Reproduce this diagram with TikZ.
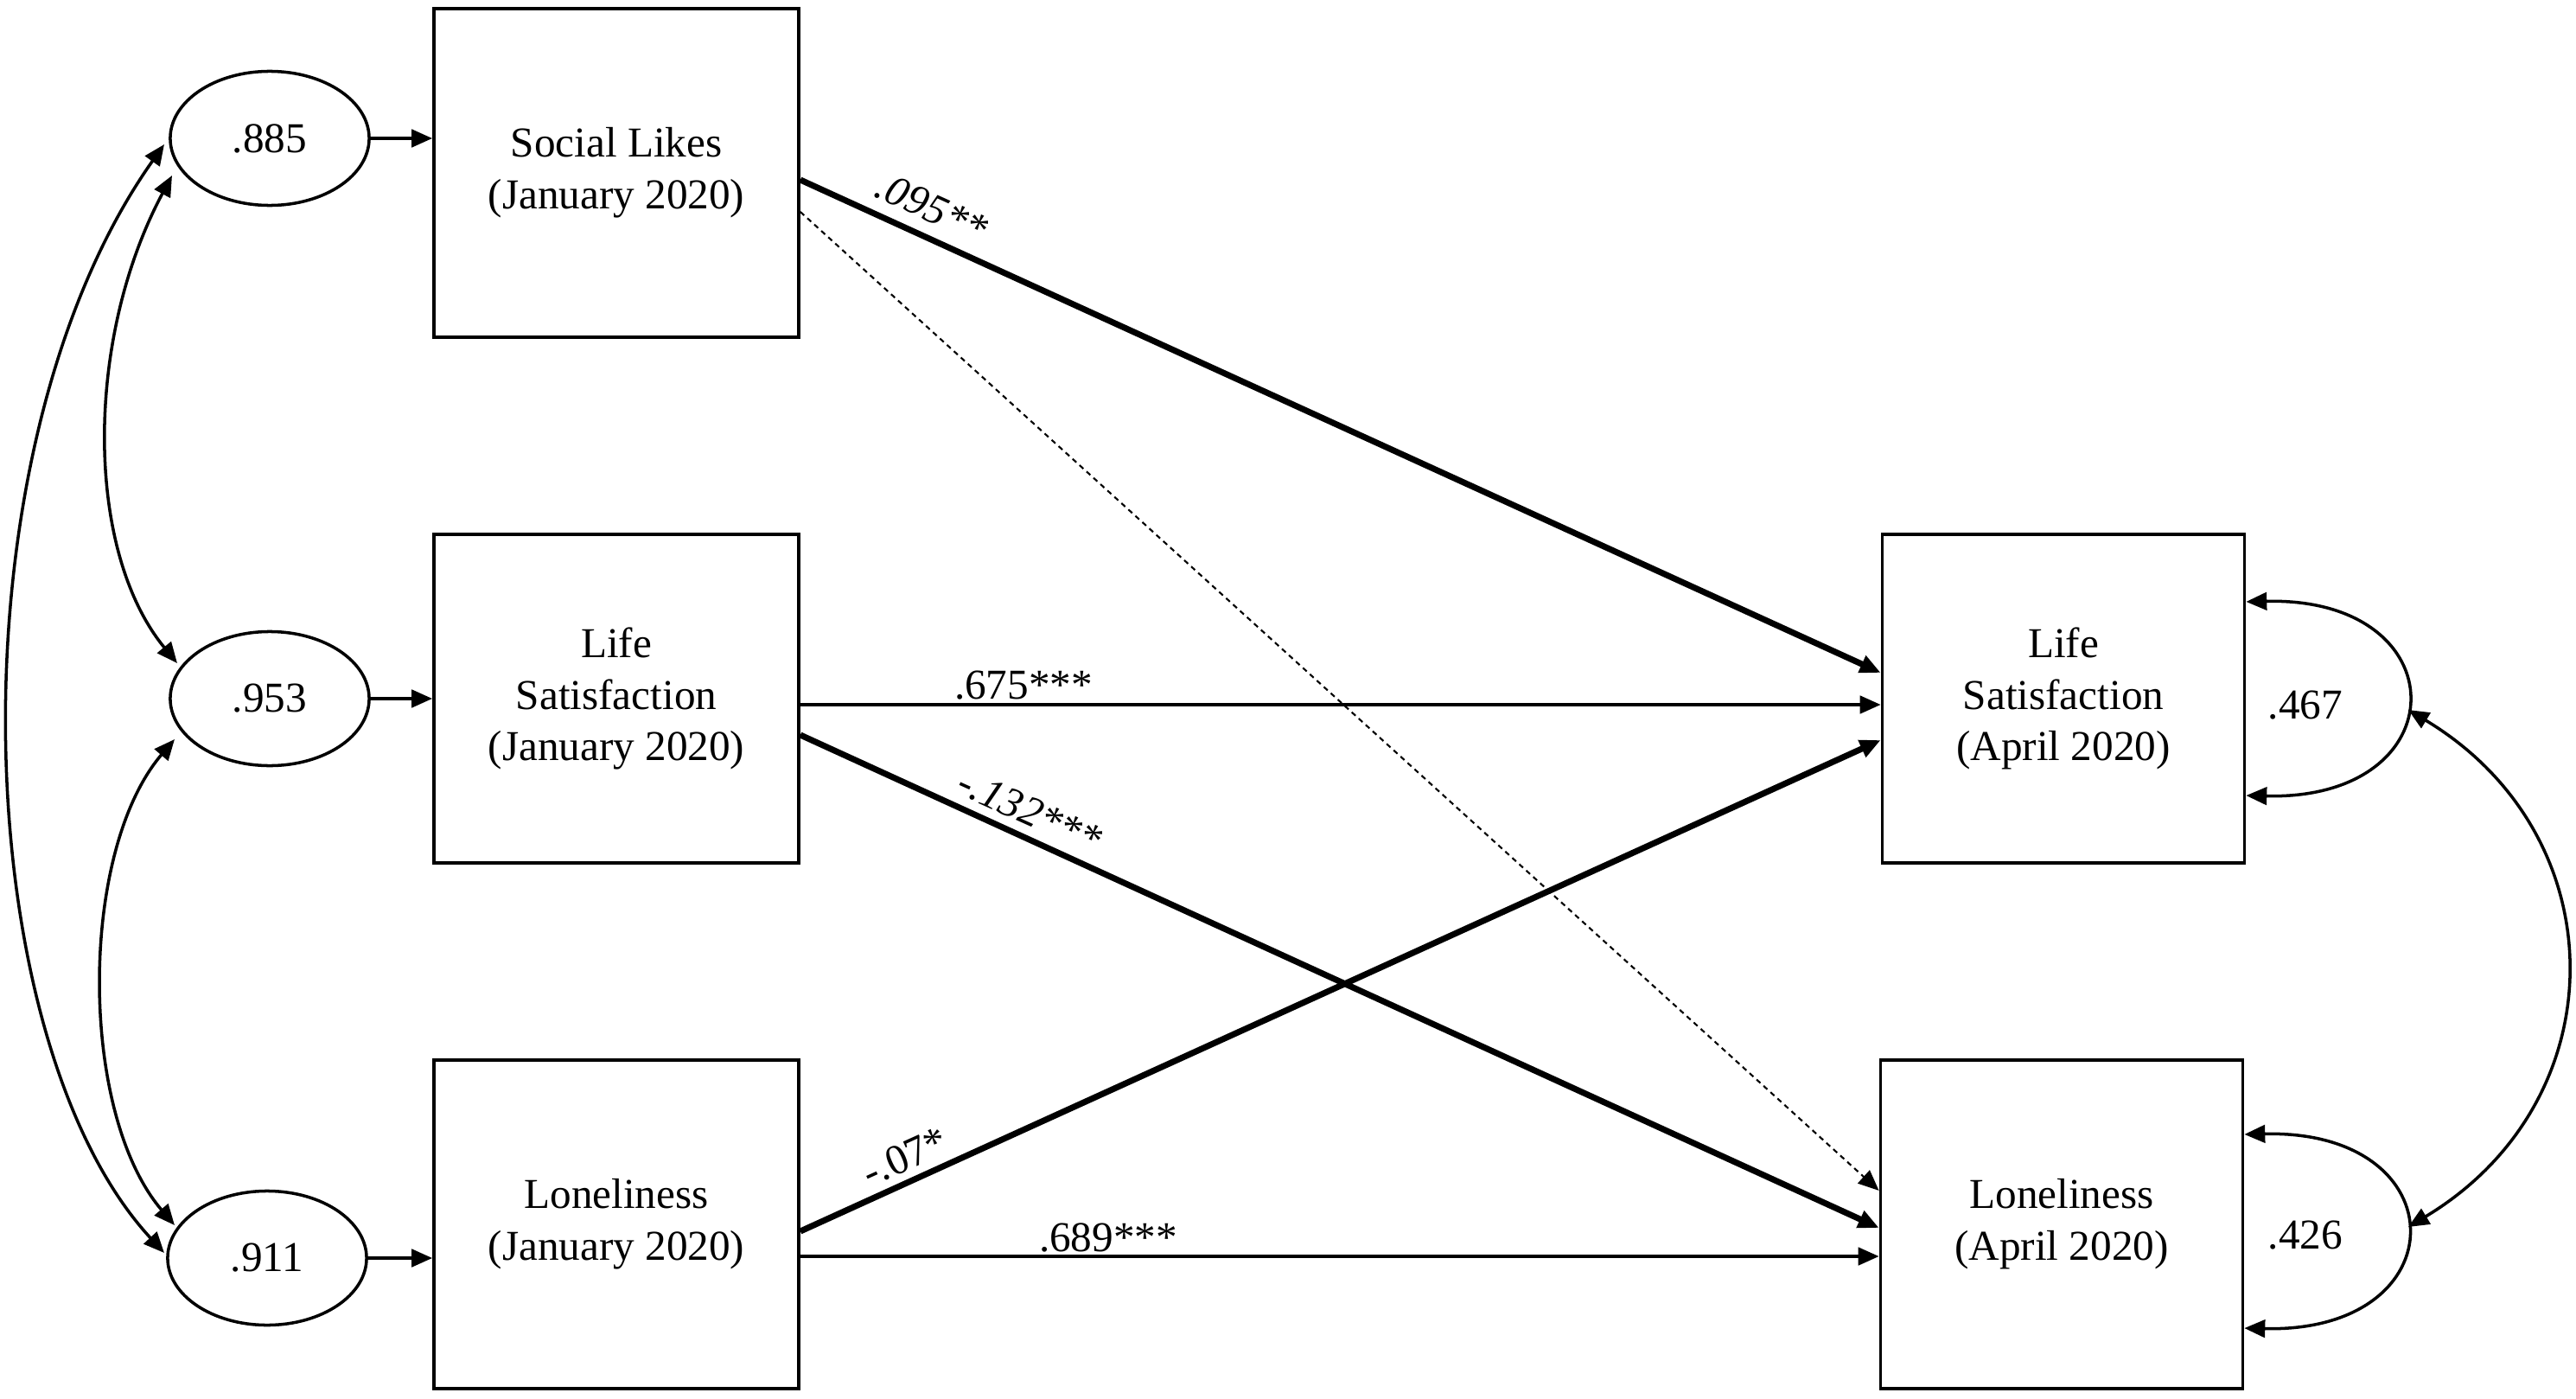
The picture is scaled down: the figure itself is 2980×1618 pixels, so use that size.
\documentclass[tikz,border=0pt]{standalone}
\usepackage{fontspec}
\setmainfont{Liberation Serif}
\usetikzlibrary{arrows.meta,shapes.geometric}
\begin{document}
\begin{tikzpicture}[x=0.01cm,y=-0.01cm,
  every node/.style={font=\fontsize{14}{17}\selectfont},
  var/.style={draw, line width=1pt, minimum width=4.22cm, minimum height=3.8cm, align=center, inner sep=0pt},
  err/.style={draw, ellipse, line width=1pt, minimum width=2.3cm, minimum height=1.55cm, inner sep=0pt},
  tip/.style={-{Triangle[length=6.8pt,width=5.8pt]}},
  dtip/.style={{Triangle[length=6.8pt,width=5.8pt]}-{Triangle[length=6.8pt,width=5.8pt]}},
  thinpath/.style={line width=1pt, tip},
  thickpath/.style={line width=2pt, tip},
  dashpath/.style={line width=0.6pt, dash pattern=on 1.7pt off 1.4pt, tip},
  covpath/.style={line width=1pt, dtip},
  lbl/.style={inner sep=0pt}
]
\useasboundingbox (0,0) rectangle (2980,1618);

% observed variables
\node[var] (SL)  at (713,200)  {Social Likes\\(January 2020)};
\node[var] (LSJ) at (713,808)  {Life\\Satisfaction\\(January 2020)};
\node[var] (LJ)  at (713,1416) {Loneliness\\(January 2020)};
\node[var, minimum width=4.19cm] (LSA) at (2387,808)  {Life\\Satisfaction\\(April 2020)};
\node[var, minimum width=4.19cm] (LA)  at (2385,1416) {Loneliness\\(April 2020)};

% error terms
\node[err] (E1) at (312,160)  {.885};
\node[err] (E2) at (312,808)  {.953};
\node[err] (E3) at (309,1455) {.911};

\draw[thinpath] (E1.east) -- (E1.east -| SL.west);
\draw[thinpath] (E2.east) -- (E2.east -| LSJ.west);
\draw[thinpath] (E3.east) -- (E3.east -| LJ.west);

% covariances among error terms
\coordinate (E1a) at (199,203);
\coordinate (E2a) at (205,767);
\coordinate (E2b) at (202,855);
\coordinate (E3a) at (202,1417);
\coordinate (E1c) at (190,167);
\coordinate (E3c) at (190,1449);
\draw[covpath] (E1a) .. controls (98,392) and (98,637) .. (E2a);
\draw[covpath] (E2b) .. controls (91,985) and (91,1287) .. (E3a);
\draw[covpath] (E1c) .. controls (-60,520) and (-40,1200) .. (E3c);

% structural paths
\draw[thickpath] ([yshift=-0.08cm]SL.east) -- ([yshift=0.30cm]LSA.west);
\draw[dashpath]  ([yshift=-0.45cm]SL.east) -- ([yshift=0.39cm]LA.west);
\draw[thinpath]  ([yshift=-0.07cm]LSJ.east) -- ([yshift=-0.07cm]LSA.west);
\draw[thickpath] ([yshift=-0.42cm]LSJ.east) -- ([yshift=-0.04cm]LA.west);
\draw[thickpath] ([yshift=-0.08cm]LJ.east) -- ([yshift=-0.48cm]LSA.west);
\draw[thinpath]  ([yshift=-0.37cm]LJ.east) -- ([yshift=-0.37cm]LA.west);

% path labels
\node[lbl, rotate=-24.4] (l1) at (1078,240) {\itshape .095**};
\node[lbl, anchor=south] (l2) at (1184,810) {.675***};
\node[lbl, rotate=-24.3] (l3) at (1191,938) {\itshape -.132***};
\node[lbl, rotate=24.3]  (l4) at (1047,1338) {-.07*};
\node[lbl, anchor=south] (l5) at (1282,1449) {.689***};

% residual variances (right)
\draw[covpath] ([yshift=1.12cm]LSA.east) .. controls (2845,690) and (2845,926) .. ([yshift=-1.12cm]LSA.east);
\draw[covpath] ([yshift=1.04cm]LA.east) .. controls (2845,1306) and (2845,1542) .. ([yshift=-1.20cm]LA.east);
\node[lbl] (v1) at (2667,816)  {.467};
\node[lbl] (v2) at (2667,1429) {.426};

\coordinate (LSAr) at (2786,821);
\coordinate (LAr)  at (2786,1419);
\draw[covpath] (LSAr) .. controls (3029,967) and (3029,1273) .. (LAr);
\end{tikzpicture}
\end{document}
